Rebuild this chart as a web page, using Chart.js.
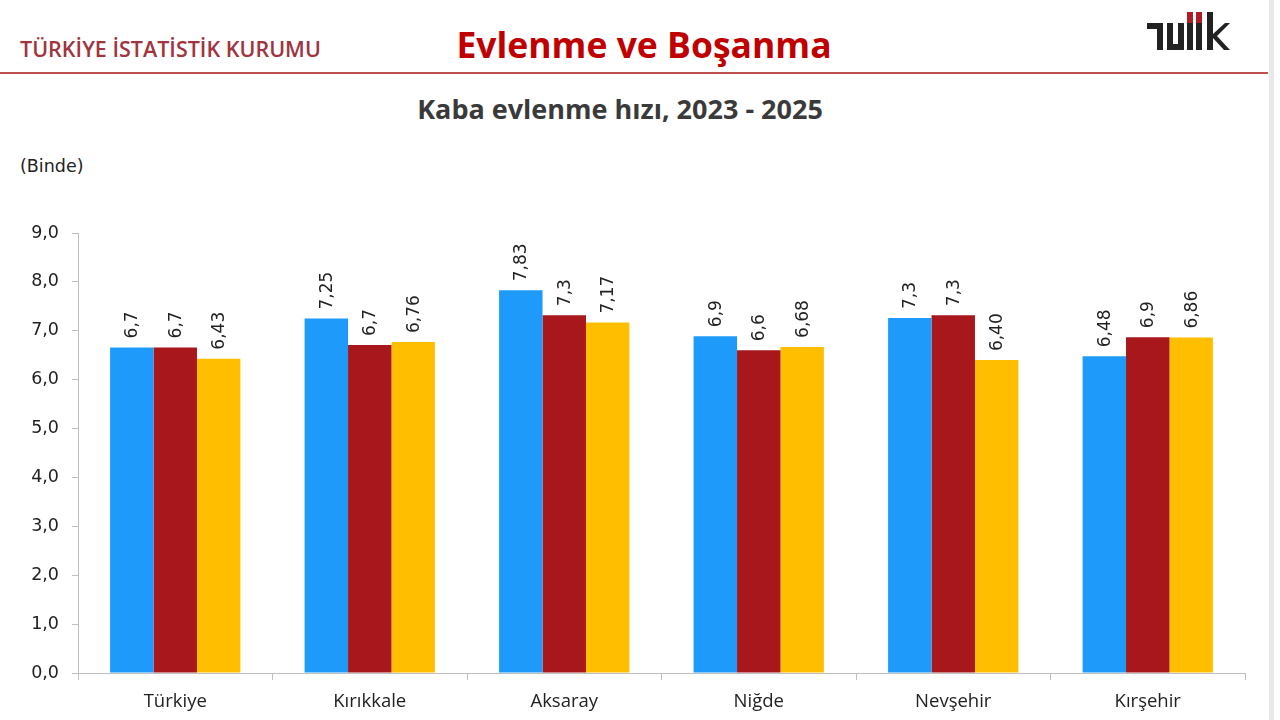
<!DOCTYPE html>
<html>
<head>
<meta charset="utf-8">
<script src="https://cdn.jsdelivr.net/npm/chart.js@4.4.1/dist/chart.umd.min.js"></script>
<style>
  html,body{margin:0;padding:0;background:#fff;}
  body{width:1280px;height:720px;position:relative;overflow:hidden;}
  .abs{position:absolute;white-space:nowrap;}
  #org{left:20px;top:34px;font-family:"Open Sans",sans-serif;font-weight:600;font-size:21.5px;color:#a0343f;}
  #head{left:0;width:1288px;text-align:center;top:20px;font-family:"Open Sans",sans-serif;font-weight:700;font-size:35.5px;color:#c00000;}
  #rule{left:0;top:72px;width:1268px;height:2px;background:#c0504d;}
  #edge{left:1269px;top:0;width:5px;height:720px;background:#e8e8e8;}
  #title{left:0;width:1240px;text-align:center;top:90px;font-family:"Open Sans",sans-serif;font-weight:700;font-size:27px;color:#3a3a3a;}
  #unit{left:20px;top:156px;font-family:"DejaVu Sans",sans-serif;font-size:17.5px;color:#222;}
  #logo{left:1147px;top:12px;}
  canvas{position:absolute;left:0;top:0;}
</style>
</head>
<body>
<div class="abs" id="edge"></div>
<div class="abs" id="org">TÜRKİYE İSTATİSTİK KURUMU</div>
<div class="abs" id="head">Evlenme ve Boşanma</div>
<div class="abs" id="rule"></div>
<svg class="abs" id="logo" width="83" height="38" viewBox="0 0 83 38">
  <rect x="0" y="11" width="16" height="6" fill="#222"/>
  <rect x="10" y="11" width="6" height="27" fill="#222"/>
  <rect x="20" y="11" width="6" height="27" fill="#222"/>
  <rect x="31" y="11" width="6" height="27" fill="#222"/>
  <rect x="20" y="32" width="17" height="6" fill="#222"/>
  <rect x="40" y="0" width="6" height="11" fill="#b01c24"/>
  <rect x="40" y="11" width="6" height="27" fill="#222"/>
  <rect x="49" y="0" width="6" height="11" fill="#b01c24"/>
  <rect x="49" y="11" width="6" height="27" fill="#222"/>
  <rect x="60" y="0" width="6" height="38" fill="#222"/>
  <polygon points="66,22 78,11 83,11 70,24 83,38 77,38 66,26" fill="#222"/>
</svg>
<div class="abs" id="title">Kaba evlenme hızı, 2023 - 2025</div>
<div class="abs" id="unit">(Binde)</div>
<canvas id="c" width="1280" height="720"></canvas>
<script>
const categories = ['Türkiye','Kırıkkale','Aksaray','Niğde','Nevşehir','Kırşehir'];
const seriesNames = ['2023','2024','2025'];
const values2023 = [6.66, 7.25, 7.83, 6.89, 7.26, 6.48];
const values2024 = [6.66, 6.71, 7.32, 6.60, 7.32, 6.87];
const values2025 = [6.43, 6.77, 7.17, 6.67, 6.40, 6.86];
const labels2023 = ['6,7','7,25','7,83','6,9','7,3','6,48'];
const labels2024 = ['6,7','6,7','7,3','6,6','7,3','6,9'];
const labels2025 = ['6,43','6,76','7,17','6,68','6,40','6,86'];
const yMin = 0, yMax = 9, yStep = 1;

const colors = ['#1e9bfa','#a8171b','#ffbf00'];
const allLabels = [labels2023, labels2024, labels2025];

const barLabelPlugin = {
  id: 'barLabels',
  afterDatasetsDraw(chart) {
    const ctx = chart.ctx;
    ctx.save();
    ctx.font = '17px "DejaVu Sans", sans-serif';
    ctx.fillStyle = '#222';
    ctx.textAlign = 'left';
    ctx.textBaseline = 'middle';
    chart.data.datasets.forEach((ds, di) => {
      const meta = chart.getDatasetMeta(di);
      meta.data.forEach((el, i) => {
        ctx.save();
        ctx.translate(el.x + 1, el.y - 9);
        ctx.rotate(-Math.PI / 2);
        ctx.fillText(allLabels[di][i], 0, 0);
        ctx.restore();
      });
    });
    ctx.restore();
  }
};

new Chart(document.getElementById('c'), {
  type: 'bar',
  data: {
    labels: categories,
    datasets: [
      { label: seriesNames[0], data: values2023, backgroundColor: colors[0] },
      { label: seriesNames[1], data: values2024, backgroundColor: colors[1] },
      { label: seriesNames[2], data: values2025, backgroundColor: colors[2] }
    ]
  },
  options: {
    responsive: false,
    animation: false,
    layout: { padding: { top: 233, right: 35, left: 0, bottom: 0 } },
    datasets: { bar: { categoryPercentage: 0.67, barPercentage: 1.0 } },
    plugins: { legend: { display: false }, tooltip: { enabled: false }, title: { display: false } },
    scales: {
      x: {
        grid: { offset: true, drawOnChartArea: false, drawTicks: true, tickLength: 7, color: '#bfbfbf' },
        border: { color: '#bfbfbf', width: 1 },
        ticks: { font: { family: 'Open Sans', size: 18.5 }, color: '#222', padding: 11 },
        afterFit(s) { s.height = 47; }
      },
      y: {
        min: yMin, max: yMax,
        grid: { drawOnChartArea: false, drawTicks: true, tickLength: 6, color: '#bfbfbf' },
        border: { color: '#bfbfbf', width: 1 },
        ticks: { stepSize: yStep, font: { family: 'DejaVu Sans', size: 17.5 }, color: '#222', padding: 13,
          callback: v => v.toFixed(1).replace('.', ',') },
        afterFit(s) { s.width = 78; }
      }
    }
  },
  plugins: [barLabelPlugin]
});
</script>
</body>
</html>
